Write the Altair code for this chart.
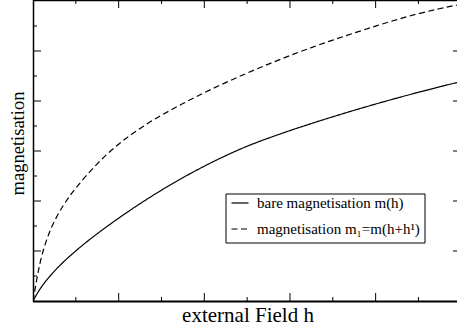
import altair as alt
import pandas as pd

# ---- data ----
series_names = ["bare magnetisation m(h)", "magnetisation m\u2081=m(h+h\u00b9)"]

h_bare = [0, 0.08, 0.2, 0.35, 0.55, 0.75, 1.0, 1.25, 1.5, 1.75, 2.0, 2.25, 2.5,
          2.75, 3.0, 3.25, 3.5, 3.75, 4.0, 4.25, 4.5, 4.75, 4.95]
m_bare = [0, 0.25, 0.51, 0.78, 1.08, 1.35, 1.66, 1.95, 2.22, 2.47, 2.70, 2.91, 3.10,
          3.26, 3.41, 3.55, 3.685, 3.815, 3.94, 4.06, 4.175, 4.285, 4.37]

h_shift = [0, 0.05, 0.1, 0.2, 0.35, 0.5, 0.75, 1.0, 1.25, 1.5, 1.75, 2.0, 2.25,
           2.5, 2.75, 3.0, 3.25, 3.5, 3.75, 4.0, 4.25, 4.5, 4.75, 4.95]
m_shift = [0, 0.5, 0.92, 1.45, 1.92, 2.27, 2.76, 3.15, 3.46, 3.72, 3.95, 4.17, 4.37,
           4.56, 4.74, 4.91, 5.07, 5.22, 5.36, 5.50, 5.63, 5.75, 5.85, 5.92]

x_major = [1, 2, 3, 4]
x_minor = [0.5, 1.5, 2.5, 3.5, 4.5]
y_major = [1, 2, 3, 4, 5]
y_minor = [0.5, 1.5, 2.5, 3.5, 4.5, 5.5]

x_title = "external Field h"
y_title = "magnetisation"

# ---- layout ----
W, H = 424, 301
FONT = "'Liberation Serif', 'Times New Roman', Times, serif"
xs = alt.Scale(domain=[0, 4.95], nice=False, zero=False)
ys = alt.Scale(domain=[0, 6.02], nice=False, zero=False)

df = pd.concat([
    pd.DataFrame({"h": h_bare, "m": m_bare, "series": series_names[0]}),
    pd.DataFrame({"h": h_shift, "m": m_shift, "series": series_names[1]}),
])

curves = alt.Chart(df).mark_line(
    color="black", strokeWidth=1.2, interpolate="basis", clip=True
).encode(
    x=alt.X("h:Q", scale=xs, axis=None),
    y=alt.Y("m:Q", scale=ys, axis=None),
    strokeDash=alt.StrokeDash("series:N", scale=alt.Scale(
        domain=series_names, range=[[1, 0], [6, 3.5]]), legend=None),
    detail="series:N",
)


def xticks(vals, y0, y1):
    return alt.Chart(pd.DataFrame({"v": vals})).mark_rule(
        color="black", strokeWidth=1
    ).encode(x=alt.X("v:Q", scale=xs, axis=None), y=alt.value(y0), y2=alt.value(y1))


def yticks(vals, x0, x1):
    return alt.Chart(pd.DataFrame({"v": vals})).mark_rule(
        color="black", strokeWidth=1
    ).encode(y=alt.Y("v:Q", scale=ys, axis=None), x=alt.value(x0), x2=alt.value(x1))


one = pd.DataFrame({"k": [0]})


def hline(y, w=1.5):
    return alt.Chart(one).mark_rule(color="black", strokeWidth=w).encode(
        x=alt.value(0), x2=alt.value(W), y=alt.value(y))


left_border = alt.Chart(one).mark_rule(color="black", strokeWidth=1.5).encode(
    x=alt.value(0.5), y=alt.value(0), y2=alt.value(H + 1))

x_label = alt.Chart(one).mark_text(
    align="center", baseline="alphabetic", font=FONT, fontSize=21, color="black"
).encode(x=alt.value(215), y=alt.value(H + 21), text=alt.value(x_title))
y_label = alt.Chart(one).mark_text(
    align="center", baseline="alphabetic", font=FONT, fontSize=18.5, color="black", angle=270
).encode(x=alt.value(-9), y=alt.value(143.5), text=alt.value(y_title))

legend_box = alt.Chart(one).mark_rect(fill="white", stroke="black", strokeWidth=1).encode(
    x=alt.value(193), x2=alt.value(392), y=alt.value(194), y2=alt.value(243))
leg_line1 = alt.Chart(one).mark_rule(color="black", strokeWidth=1.2).encode(
    x=alt.value(198.5), x2=alt.value(215.5), y=alt.value(203))
leg_line2 = alt.Chart(one).mark_rule(color="black", strokeWidth=1.2, strokeDash=[6, 3.5]).encode(
    x=alt.value(198.5), x2=alt.value(215.5), y=alt.value(229))
leg_text1 = alt.Chart(one).mark_text(
    align="left", baseline="alphabetic", font=FONT, fontSize=15, color="black"
).encode(x=alt.value(224), y=alt.value(207.5), text=alt.value(series_names[0]))
leg_text2 = alt.Chart(one).mark_text(
    align="left", baseline="alphabetic", font=FONT, fontSize=15, color="black"
).encode(x=alt.value(224), y=alt.value(233.5), text=alt.value(series_names[1]))

chart = alt.layer(
    curves,
    xticks(x_major, H, H - 8), xticks(x_minor, H, H - 4),
    xticks(x_major, 0, 8), xticks(x_minor, 0, 4),
    yticks(y_major, 0, 8), yticks(y_minor, 0, 4),
    yticks(y_major, W - 4, W),
    hline(0.5), hline(H + 0.5, 2), left_border,
    x_label, y_label,
    legend_box, leg_line1, leg_line2, leg_text1, leg_text2,
).properties(
    width=W, height=H,
    autosize=alt.AutoSizeParams(type="none"),
    padding={"left": 33, "top": 0, "right": 0, "bottom": 31},
    background="white",
).configure_view(stroke="transparent")

chart.save("out.html", embed_options={"renderer": "svg", "actions": False})
